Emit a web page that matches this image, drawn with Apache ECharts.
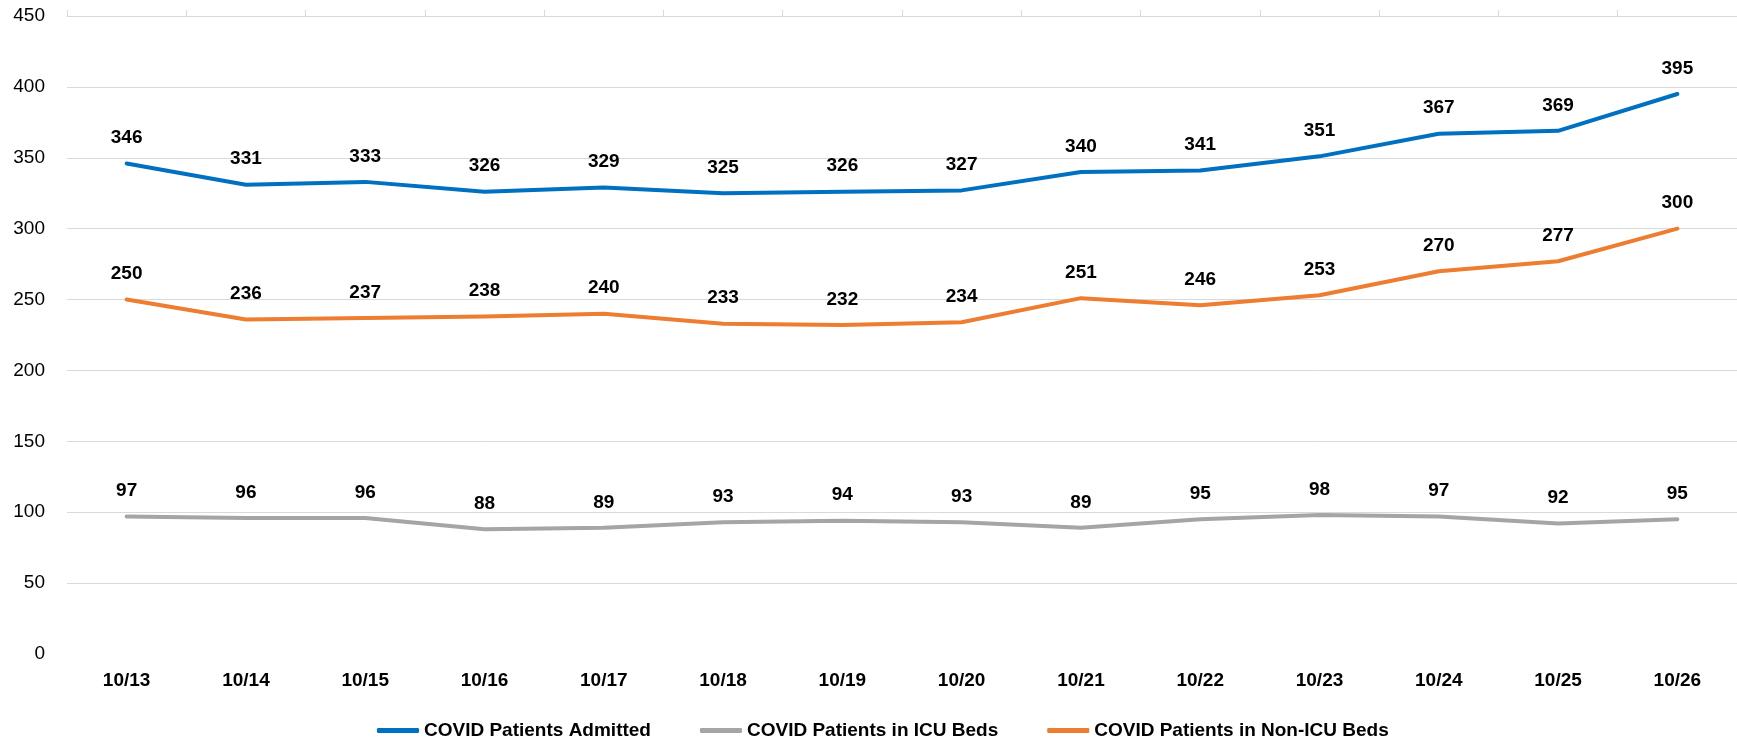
<!DOCTYPE html>
<html>
<head>
<meta charset="utf-8">
<script src="https://cdn.jsdelivr.net/npm/echarts@6/dist/echarts.min.js"></script>
<style>
html,body{margin:0;padding:0;background:#fff;}
#chart{width:1737px;height:740px;}
</style>
</head>
<body>
<div id="chart"></div>
<script>
const categories = ['10/13','10/14','10/15','10/16','10/17','10/18','10/19','10/20','10/21','10/22','10/23','10/24','10/25','10/26'];
const admitted = [346,331,333,326,329,325,326,327,340,341,351,367,369,395];
const icu = [97,96,96,88,89,93,94,93,89,95,98,97,92,95];
const nonIcu = [250,236,237,238,240,233,232,234,251,246,253,270,277,300];
const seriesNames = ['COVID Patients Admitted','COVID Patients in ICU Beds','COVID Patients in Non-ICU Beds'];
const colors = ['#0070C0','#A5A5A5','#ED7D31'];

const font = 'Liberation Sans';
function mk(name, data, color){
  return {
    name: name, type: 'line', data: data, xAxisIndex: 0,
    symbol: 'circle', symbolSize: 0.1, showSymbol: true, smooth: false,
    lineStyle: {color: color, width: 4, cap: 'round', join: 'round'},
    itemStyle: {color: color},
    label: {show: true, position: 'top', distance: 16, color: '#000', fontWeight: 'bold', fontSize: 19, fontFamily: font},
    z: 3
  };
}
const chart = echarts.init(document.getElementById('chart'));
chart.setOption({
  animation: false,
  backgroundColor: '#fff',
  grid: {left: 67, top: 16, width: 1674, bottom: 86, containLabel: false},
  legend: {
    data: seriesNames, top: 716, left: 372,
    icon: 'roundRect', itemWidth: 42, itemHeight: 5, itemGap: 49,
    textStyle: {fontFamily: font, fontWeight: 'bold', fontSize: 19, color: '#000', padding: [0,0,0,0]}
  },
  xAxis: [{
    type: 'category', data: categories, boundaryGap: true, position: 'bottom',
    axisLine: {show: false}, axisTick: {show: false},
    axisLabel: {color: '#000', fontWeight: 'bold', fontSize: 19, fontFamily: font, margin: 17}
  },{
    type: 'category', data: categories, boundaryGap: true, position: 'top',
    axisLine: {show: true, lineStyle: {color: '#d9d9d9', width: 1}},
    axisTick: {show: true, length: 6, lineStyle: {color: '#d9d9d9'}},
    axisLabel: {show: false}
  }],
  yAxis: {
    type: 'value', min: 0, max: 450, interval: 50,
    axisLine: {show: false}, axisTick: {show: false},
    splitLine: {show: true, showMinLine: false, lineStyle: {color: '#d9d9d9', width: 1}},
    axisLabel: {color: '#000', fontSize: 19, fontFamily: font, margin: 22}
  },
  series: [mk(seriesNames[0], admitted, colors[0]), mk(seriesNames[1], icu, colors[1]), mk(seriesNames[2], nonIcu, colors[2])]
});
</script>
</body>
</html>
